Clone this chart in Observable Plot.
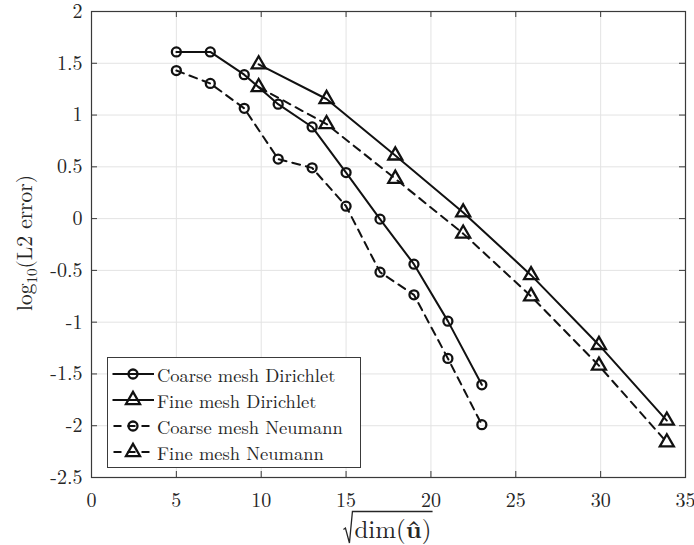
<!DOCTYPE html>
<html>
<head>
<meta charset="utf-8">
<script src="https://cdn.jsdelivr.net/npm/d3@7"></script>
<script src="https://cdn.jsdelivr.net/npm/@observablehq/plot@0.6"></script>
<style>
  body { margin: 0; background: #fff; }
  #wrap { position: relative; width: 694px; height: 545px; font-family: "Latin Modern Roman", "Liberation Serif", serif; color: #262626; }
  #legend { position: absolute; left: 107px; top: 357px; width: 252px; height: 106px; border: 1px solid #3a3a3a; background: #fff; padding-top: 3px; box-sizing: content-box; }
  .row { display: flex; align-items: center; height: 26px; font-size: 18.5px; white-space: nowrap; }
  .row svg { flex: none; }
</style>
</head>
<body>
<div id="wrap"></div>
<script>
// ---- data ----
const coarseX = [5, 7, 9, 11, 13, 15, 17, 19, 21, 23];
const coarseDirichlet = [1.61, 1.61, 1.39, 1.105, 0.885, 0.445, -0.005, -0.44, -0.99, -1.605];
const coarseNeumann = [1.43, 1.305, 1.065, 0.575, 0.49, 0.12, -0.517, -0.736, -1.35, -1.99];
const fineX = [9.85, 13.85, 17.9, 21.9, 25.9, 29.9, 33.9];
const fineDirichlet = [1.49, 1.155, 0.61, 0.06, -0.546, -1.22, -1.95];
const fineNeumann = [1.27, 0.913, 0.385, -0.145, -0.75, -1.42, -2.16];

const seriesNames = ["Coarse mesh Dirichlet", "Fine mesh Dirichlet", "Coarse mesh Neumann", "Fine mesh Neumann"];
const seriesX = [coarseX, fineX, coarseX, fineX];
const seriesY = [coarseDirichlet, fineDirichlet, coarseNeumann, fineNeumann];
const seriesDash = [null, null, "8,6", "8,6"];
const seriesSymbol = ["circle", "triangle", "circle", "triangle"];
const seriesR = [4.5, 5.2, 4.5, 5.2];

const xTicks = [0, 5, 10, 15, 20, 25, 30, 35];
const yTicks = [-2.5, -2, -1.5, -1, -0.5, 0, 0.5, 1, 1.5, 2];
const yTickLabels = ["-2.5", "-2", "-1.5", "-1", "-0.5", "0", "0.5", "1", "1.5", "2"];

// ---- build table ----
const rows = seriesNames.flatMap((name, i) =>
  seriesX[i].map((x, j) => ({series: name, x, y: seriesY[i][j]})));

const FONT = "'Latin Modern Roman', 'Liberation Serif', serif";
const W = 694, H = 545;
const mL = 91, mR = 9, mT = 11, mB = 68;
const innerH = H - mT - mB, innerW = W - mL - mR;
const tickLen = 6;
const ink = "#111";

const marks = [
  Plot.gridX(xTicks, {stroke: "#e3e3e3", strokeOpacity: 1, strokeWidth: 1}),
  Plot.gridY(yTicks, {stroke: "#e3e3e3", strokeOpacity: 1, strokeWidth: 1}),
  // inward ticks on all four sides
  Plot.ruleX(xTicks, {x: d => d, insetTop: innerH - tickLen, stroke: "#3a3a3a"}),
  Plot.ruleX(xTicks, {x: d => d, insetBottom: innerH - tickLen, stroke: "#3a3a3a"}),
  Plot.ruleY(yTicks, {y: d => d, insetRight: innerW - tickLen, stroke: "#3a3a3a"}),
  Plot.ruleY(yTicks, {y: d => d, insetLeft: innerW - tickLen, stroke: "#3a3a3a"}),
  Plot.frame({stroke: "#3a3a3a", strokeWidth: 1.2}),
  Plot.axisX(xTicks, {anchor: "bottom", tickSize: 0, tickPadding: 15, label: null, tickFormat: d => String(d), fill: "#262626"}),
  Plot.axisY(yTicks, {anchor: "left", tickSize: 0, tickPadding: 9, label: null, tickFormat: d => yTickLabels[yTicks.indexOf(d)], fill: "#262626"})
];
seriesNames.forEach((name, i) => {
  const data = rows.filter(d => d.series === name);
  marks.push(Plot.line(data, {x: "x", y: "y", stroke: ink, strokeWidth: 2, strokeDasharray: seriesDash[i]}));
  marks.push(Plot.dot(data, {x: "x", y: "y", symbol: seriesSymbol[i], r: seriesR[i], fill: "none", stroke: ink, strokeWidth: 2.3}));
});

const chart = Plot.plot({
  width: W, height: H,
  marginLeft: mL, marginRight: mR, marginTop: mT, marginBottom: mB,
  x: {domain: [0, 35]},
  y: {domain: [-2.5, 2]},
  style: {fontSize: "20px", background: "#fff", overflow: "visible"},
  marks
});

const wrap = document.getElementById("wrap");
wrap.appendChild(chart);

// axis titles as real text
const svg = d3.select(chart);
const xl = svg.append("text")
  .attr("x", 393).attr("y", 537.5)
  .attr("text-anchor", "middle")
  .attr("font-size", 25).attr("fill", "#262626");
xl.append("tspan").text("dim(");
xl.append("tspan").attr("font-weight", "bold").text("\u00FB");
xl.append("tspan").text(")");

const yl = svg.append("text")
  .attr("transform", "translate(32,243) rotate(-90)")
  .attr("text-anchor", "middle")
  .attr("font-size", 21.5).attr("fill", "#262626");
yl.append("tspan").text("log");
yl.append("tspan").attr("font-size", 15).attr("dy", 5).text("10");
yl.append("tspan").attr("dy", -5).text("(L2 error)");

// force the serif font on every svg text
svg.selectAll("text, tspan").each(function () {
  this.setAttribute("font-family", FONT);
  this.style.setProperty("font-family", FONT, "important");
});

// radical sign over the x label, sized from the text itself
const bb = xl.node().getBBox();
const radTop = 537.5 - 26, radLeft = bb.x - 2, radRight = bb.x + bb.width + 1;
svg.append("path")
  .attr("d", `M${radLeft - 9},${radTop + 18} L${radLeft - 7},${radTop + 16.5} L${radLeft - 3},${radTop + 31.5} L${radLeft},${radTop} L${radRight},${radTop}`)
  .attr("fill", "none").attr("stroke", "#262626").attr("stroke-width", 1.3).attr("stroke-linejoin", "miter");

// legend
const legend = document.createElement("div");
legend.id = "legend";
wrap.appendChild(legend);
seriesNames.forEach((name, i) => {
  const row = document.createElement("div");
  row.className = "row";
  const s = d3.create("svg").attr("width", 49).attr("height", 26);
  const line = s.append("line").attr("x1", 4.5).attr("x2", 46).attr("y1", 13).attr("y2", 13)
    .attr("stroke", ink).attr("stroke-width", 2);
  if (seriesDash[i]) line.attr("stroke-dasharray", "8,6").attr("stroke-dashoffset", -1);
  const sym = seriesSymbol[i] === "circle" ? d3.symbolCircle : d3.symbolTriangle;
  s.append("path").attr("transform", "translate(25,13)")
    .attr("d", d3.symbol(sym, Math.PI * seriesR[i] * seriesR[i])())
    .attr("fill", "none").attr("stroke", ink).attr("stroke-width", 2.3);
  row.appendChild(s.node());
  const t = document.createElement("span");
  t.textContent = name;
  row.appendChild(t);
  legend.appendChild(row);
});
</script>
</body>
</html>
